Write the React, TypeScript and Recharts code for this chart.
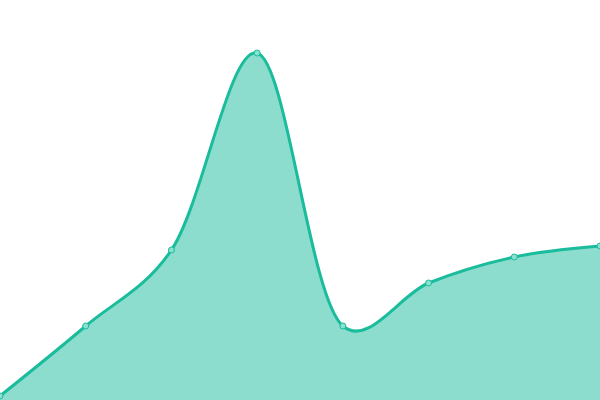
import React from 'react';
import { AreaChart, Area, XAxis, YAxis } from 'recharts';

const categories = ['A', 'B', 'C', 'D', 'E', 'F', 'G', 'H'];
const values = [4, 74, 150, 347, 74, 117, 143, 154];

const data = categories.map((name, i) => ({ name, value: values[i] }));

// Catmull-Rom curve factory, same maths as d3's curveCatmullRom.alpha(a)
function makeCatmullRom(alpha: number) {
  return function catmullRom(context: any) {
    const eps = 1e-12;
    const s: any = { _line: NaN };
    const seg = (x: number, y: number) => {
      let x1 = s._x1, y1 = s._y1, x2 = s._x2, y2 = s._y2;
      if (s._l01_a > eps) {
        const a = 2 * s._l01_2a + 3 * s._l01_a * s._l12_a + s._l12_2a;
        const n = 3 * s._l01_a * (s._l01_a + s._l12_a);
        x1 = (x1 * a - s._x0 * s._l12_2a + s._x2 * s._l01_2a) / n;
        y1 = (y1 * a - s._y0 * s._l12_2a + s._y2 * s._l01_2a) / n;
      }
      if (s._l23_a > eps) {
        const b = 2 * s._l23_2a + 3 * s._l23_a * s._l12_a + s._l12_2a;
        const m = 3 * s._l23_a * (s._l23_a + s._l12_a);
        x2 = (x2 * b + s._x1 * s._l23_2a - x * s._l12_2a) / m;
        y2 = (y2 * b + s._y1 * s._l23_2a - y * s._l12_2a) / m;
      }
      context.bezierCurveTo(x1, y1, x2, y2, s._x2, s._y2);
    };
    s.areaStart = () => { s._line = 0; };
    s.areaEnd = () => { s._line = NaN; };
    s.lineStart = () => {
      s._x0 = s._x1 = s._x2 = s._y0 = s._y1 = s._y2 = NaN;
      s._l01_a = s._l12_a = s._l23_a = s._l01_2a = s._l12_2a = s._l23_2a = s._point = 0;
    };
    s.lineEnd = () => {
      switch (s._point) {
        case 2: context.lineTo(s._x2, s._y2); break;
        case 3: s.point(s._x2, s._y2); break;
      }
      if (s._line || (s._line !== 0 && s._point === 1)) context.closePath();
      s._line = 1 - s._line;
    };
    s.point = (x: number, y: number) => {
      x = +x; y = +y;
      if (s._point) {
        const x23 = s._x2 - x, y23 = s._y2 - y;
        s._l23_2a = Math.pow(x23 * x23 + y23 * y23, alpha);
        s._l23_a = Math.sqrt(s._l23_2a);
      }
      switch (s._point) {
        case 0:
          s._point = 1;
          s._line ? context.lineTo(x, y) : context.moveTo(x, y);
          break;
        case 1:
          s._point = 2;
          break;
        case 2:
          s._point = 3;
          seg(x, y);
          break;
        default:
          seg(x, y);
          break;
      }
      s._l01_a = s._l12_a; s._l12_a = s._l23_a;
      s._l01_2a = s._l12_2a; s._l12_2a = s._l23_2a;
      s._x0 = s._x1; s._x1 = s._x2; s._x2 = x;
      s._y0 = s._y1; s._y1 = s._y2; s._y2 = y;
    };
    return s;
  };
}

const curve = makeCatmullRom(0.25);

export default function App() {
  return (
    <div style={{ position: 'fixed', top: 0, left: 0, width: 600, height: 400, background: '#fff' }}>
      <AreaChart width={600} height={400} data={data} margin={{ top: 0, right: 0, bottom: 0, left: 0 }}>
        <XAxis dataKey="name" hide />
        <YAxis hide domain={[0, 400]} />
        <Area
          type={curve as any}
          dataKey="value"
          stroke="#1abc9c"
          strokeWidth={3}
          fill="#1abc9c"
          fillOpacity={0.5}
          dot={{ r: 3, fill: '#8ce0cf', stroke: '#1abc9c', strokeWidth: 1, fillOpacity: 1 }}
          activeDot={false}
          isAnimationActive={false}
        />
      </AreaChart>
    </div>
  );
}
